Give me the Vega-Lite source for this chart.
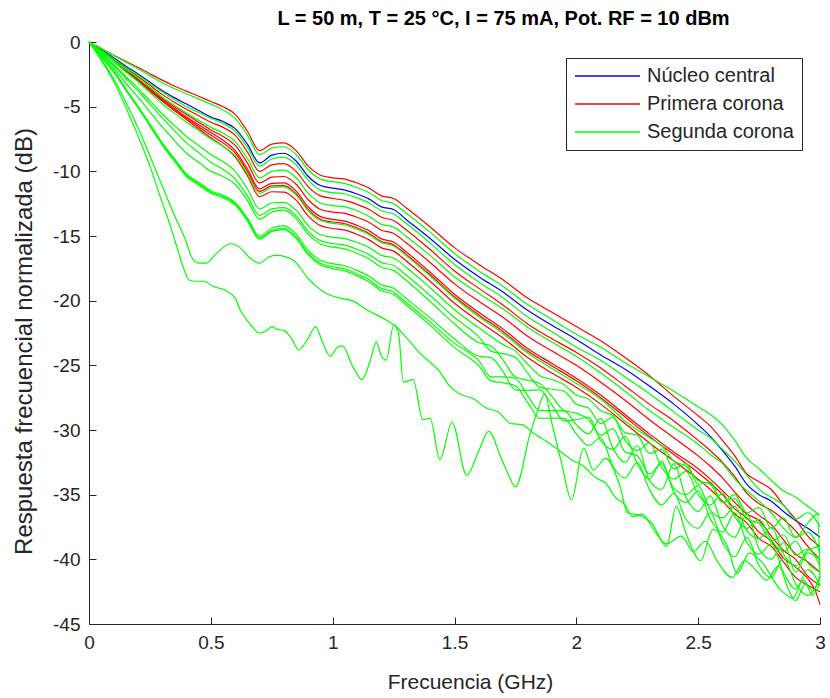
{
"$schema":"https://vega.github.io/schema/vega-lite/v6.json",
"width":731,"height":582,
"autosize":{"type":"none"},
"padding":{"left":89,"top":42,"right":10,"bottom":74},
"background":"white",
"config":{"view":{"stroke":null}},
"title":{"text":"L = 50 m, T = 25 °C, I = 75 mA, Pot. RF = 10 dBm","font":"Liberation Sans, Arial, sans-serif","fontSize":20,"fontWeight":"bold","color":"#000000","anchor":"middle","frame":"group","offset":4,"dx":49},
"datasets":{
"cores":[{"s":"B","g":"Núcleo central"},{"s":"R1","g":"Primera corona"},{"s":"R2","g":"Primera corona"},{"s":"R3","g":"Primera corona"},{"s":"R4","g":"Primera corona"},{"s":"R5","g":"Primera corona"},{"s":"R6","g":"Primera corona"},{"s":"G1","g":"Segunda corona"},{"s":"G2","g":"Segunda corona"},{"s":"G3","g":"Segunda corona"},{"s":"G4","g":"Segunda corona"},{"s":"G5","g":"Segunda corona"},{"s":"G6","g":"Segunda corona"},{"s":"G7","g":"Segunda corona"},{"s":"G8","g":"Segunda corona"},{"s":"G9","g":"Segunda corona"},{"s":"G10","g":"Segunda corona"},{"s":"G11","g":"Segunda corona"},{"s":"G12","g":"Segunda corona"}],
"curvas":[
{"s":"R1","x":0,"y":0},{"s":"R1","x":0.05,"y":-0.5},{"s":"R1","x":0.1,"y":-1},{"s":"R1","x":0.15,"y":-1.5},{"s":"R1","x":0.2,"y":-1.95},{"s":"R1","x":0.25,"y":-2.45},{"s":"R1","x":0.3,"y":-2.95},{"s":"R1","x":0.35,"y":-3.4},{"s":"R1","x":0.4,"y":-3.8},{"s":"R1","x":0.45,"y":-4.2},{"s":"R1","x":0.5,"y":-4.6},{"s":"R1","x":0.55,"y":-5},{"s":"R1","x":0.6,"y":-5.6},{"s":"R1","x":0.65,"y":-6.9},{"s":"R1","x":0.7,"y":-8.4},{"s":"R1","x":0.75,"y":-7.9},{"s":"R1","x":0.8,"y":-7.8},{"s":"R1","x":0.85,"y":-8.4},{"s":"R1","x":0.9,"y":-9.6},{"s":"R1","x":0.95,"y":-10.3},{"s":"R1","x":1,"y":-10.5},{"s":"R1","x":1.05,"y":-10.6},{"s":"R1","x":1.1,"y":-10.9},{"s":"R1","x":1.15,"y":-11.3},{"s":"R1","x":1.2,"y":-11.9},{"s":"R1","x":1.25,"y":-12.1},{"s":"R1","x":1.3,"y":-12.8},{"s":"R1","x":1.4,"y":-14.3},{"s":"R1","x":1.5,"y":-15.9},{"s":"R1","x":1.6,"y":-17.2},{"s":"R1","x":1.7,"y":-18.4},{"s":"R1","x":1.8,"y":-19.8},{"s":"R1","x":1.9,"y":-20.9},{"s":"R1","x":2,"y":-22},{"s":"R1","x":2.1,"y":-23.1},{"s":"R1","x":2.2,"y":-24.4},{"s":"R1","x":2.3,"y":-25.8},{"s":"R1","x":2.4,"y":-27.4},{"s":"R1","x":2.5,"y":-28.9},{"s":"R1","x":2.55,"y":-29.7},{"s":"R1","x":2.6,"y":-30.8},{"s":"R1","x":2.65,"y":-32},{"s":"R1","x":2.7,"y":-33.4},{"s":"R1","x":2.75,"y":-34},{"s":"R1","x":2.8,"y":-34.6},{"s":"R1","x":2.85,"y":-35.8},{"s":"R1","x":2.9,"y":-36.9},{"s":"R1","x":2.95,"y":-38.2},{"s":"R1","x":3,"y":-39},
{"s":"G1","x":0,"y":0},{"s":"G1","x":0.05,"y":-0.5},{"s":"G1","x":0.1,"y":-1},{"s":"G1","x":0.15,"y":-1.55},{"s":"G1","x":0.2,"y":-2.05},{"s":"G1","x":0.25,"y":-2.6},{"s":"G1","x":0.3,"y":-3.15},{"s":"G1","x":0.35,"y":-3.6},{"s":"G1","x":0.4,"y":-4},{"s":"G1","x":0.45,"y":-4.4},{"s":"G1","x":0.5,"y":-4.8},{"s":"G1","x":0.55,"y":-5.25},{"s":"G1","x":0.6,"y":-5.9},{"s":"G1","x":0.65,"y":-7.2},{"s":"G1","x":0.7,"y":-8.7},{"s":"G1","x":0.75,"y":-8.2},{"s":"G1","x":0.8,"y":-8.1},{"s":"G1","x":0.85,"y":-8.7},{"s":"G1","x":0.9,"y":-9.9},{"s":"G1","x":0.95,"y":-10.6},{"s":"G1","x":1,"y":-10.8},{"s":"G1","x":1.05,"y":-10.95},{"s":"G1","x":1.1,"y":-11.25},{"s":"G1","x":1.15,"y":-11.65},{"s":"G1","x":1.2,"y":-12.25},{"s":"G1","x":1.25,"y":-12.5},{"s":"G1","x":1.3,"y":-13.2},{"s":"G1","x":1.4,"y":-14.7},{"s":"G1","x":1.5,"y":-16.35},{"s":"G1","x":1.6,"y":-17.7},{"s":"G1","x":1.7,"y":-18.9},{"s":"G1","x":1.8,"y":-20.3},{"s":"G1","x":1.9,"y":-21.45},{"s":"G1","x":2,"y":-22.6},{"s":"G1","x":2.1,"y":-23.6},{"s":"G1","x":2.2,"y":-24.8},{"s":"G1","x":2.3,"y":-25.9},{"s":"G1","x":2.4,"y":-27},{"s":"G1","x":2.5,"y":-28.2},{"s":"G1","x":2.55,"y":-28.8},{"s":"G1","x":2.6,"y":-29.6},{"s":"G1","x":2.65,"y":-30.8},{"s":"G1","x":2.7,"y":-32.2},{"s":"G1","x":2.75,"y":-33},{"s":"G1","x":2.8,"y":-33.9},{"s":"G1","x":2.85,"y":-34.7},{"s":"G1","x":2.9,"y":-35.2},{"s":"G1","x":2.95,"y":-35.9},{"s":"G1","x":3,"y":-36.6},
{"s":"B","x":0,"y":0},{"s":"B","x":0.05,"y":-0.6},{"s":"B","x":0.1,"y":-1.2},{"s":"B","x":0.15,"y":-1.85},{"s":"B","x":0.2,"y":-2.45},{"s":"B","x":0.25,"y":-3.1},{"s":"B","x":0.3,"y":-3.75},{"s":"B","x":0.35,"y":-4.3},{"s":"B","x":0.4,"y":-4.8},{"s":"B","x":0.45,"y":-5.3},{"s":"B","x":0.5,"y":-5.8},{"s":"B","x":0.55,"y":-6.15},{"s":"B","x":0.6,"y":-6.7},{"s":"B","x":0.65,"y":-7.9},{"s":"B","x":0.7,"y":-9.35},{"s":"B","x":0.75,"y":-8.75},{"s":"B","x":0.8,"y":-8.6},{"s":"B","x":0.85,"y":-9.2},{"s":"B","x":0.9,"y":-10.4},{"s":"B","x":0.95,"y":-11.1},{"s":"B","x":1,"y":-11.3},{"s":"B","x":1.05,"y":-11.45},{"s":"B","x":1.1,"y":-11.75},{"s":"B","x":1.15,"y":-12.15},{"s":"B","x":1.2,"y":-12.75},{"s":"B","x":1.25,"y":-12.95},{"s":"B","x":1.3,"y":-13.7},{"s":"B","x":1.4,"y":-15.2},{"s":"B","x":1.5,"y":-16.8},{"s":"B","x":1.6,"y":-18.15},{"s":"B","x":1.7,"y":-19.35},{"s":"B","x":1.8,"y":-20.75},{"s":"B","x":1.9,"y":-21.9},{"s":"B","x":2,"y":-23},{"s":"B","x":2.1,"y":-24.2},{"s":"B","x":2.2,"y":-25.3},{"s":"B","x":2.3,"y":-26.6},{"s":"B","x":2.4,"y":-28},{"s":"B","x":2.5,"y":-29.6},{"s":"B","x":2.55,"y":-30.5},{"s":"B","x":2.6,"y":-31.6},{"s":"B","x":2.65,"y":-32.8},{"s":"B","x":2.7,"y":-34.2},{"s":"B","x":2.75,"y":-35},{"s":"B","x":2.8,"y":-35.5},{"s":"B","x":2.85,"y":-36.3},{"s":"B","x":2.9,"y":-37},{"s":"B","x":2.95,"y":-37.6},{"s":"B","x":3,"y":-38.3},
{"s":"G2","x":0,"y":0},{"s":"G2","x":0.05,"y":-0.65},{"s":"G2","x":0.1,"y":-1.3},{"s":"G2","x":0.15,"y":-1.95},{"s":"G2","x":0.2,"y":-2.55},{"s":"G2","x":0.25,"y":-3.2},{"s":"G2","x":0.3,"y":-3.85},{"s":"G2","x":0.35,"y":-4.45},{"s":"G2","x":0.4,"y":-5},{"s":"G2","x":0.45,"y":-5.45},{"s":"G2","x":0.5,"y":-5.9},{"s":"G2","x":0.55,"y":-6.3},{"s":"G2","x":0.6,"y":-6.9},{"s":"G2","x":0.65,"y":-8.15},{"s":"G2","x":0.7,"y":-9.6},{"s":"G2","x":0.75,"y":-9.05},{"s":"G2","x":0.8,"y":-8.9},{"s":"G2","x":0.85,"y":-9.5},{"s":"G2","x":0.9,"y":-10.7},{"s":"G2","x":0.95,"y":-11.45},{"s":"G2","x":1,"y":-11.65},{"s":"G2","x":1.05,"y":-11.75},{"s":"G2","x":1.1,"y":-12.05},{"s":"G2","x":1.15,"y":-12.45},{"s":"G2","x":1.2,"y":-13.05},{"s":"G2","x":1.25,"y":-13.3},{"s":"G2","x":1.3,"y":-14},{"s":"G2","x":1.4,"y":-15.55},{"s":"G2","x":1.5,"y":-17.2},{"s":"G2","x":1.6,"y":-18.55},{"s":"G2","x":1.7,"y":-19.8},{"s":"G2","x":1.8,"y":-21.25},{"s":"G2","x":1.9,"y":-22.4},{"s":"G2","x":2,"y":-23.6},{"s":"G2","x":2.1,"y":-24.6},{"s":"G2","x":2.2,"y":-25.9},{"s":"G2","x":2.3,"y":-27.2},{"s":"G2","x":2.4,"y":-28.6},{"s":"G2","x":2.5,"y":-30},{"s":"G2","x":2.55,"y":-30.6},{"s":"G2","x":2.6,"y":-31.5},{"s":"G2","x":2.65,"y":-32.4},{"s":"G2","x":2.7,"y":-33.5},{"s":"G2","x":2.75,"y":-34.6},{"s":"G2","x":2.8,"y":-35.2},{"s":"G2","x":2.85,"y":-35.8},{"s":"G2","x":2.9,"y":-36.9},{"s":"G2","x":2.95,"y":-36.4},{"s":"G2","x":3,"y":-37.5},
{"s":"R2","x":0,"y":0},{"s":"R2","x":0.05,"y":-0.65},{"s":"R2","x":0.1,"y":-1.3},{"s":"R2","x":0.15,"y":-2},{"s":"R2","x":0.2,"y":-2.65},{"s":"R2","x":0.25,"y":-3.35},{"s":"R2","x":0.3,"y":-4.05},{"s":"R2","x":0.35,"y":-4.65},{"s":"R2","x":0.4,"y":-5.2},{"s":"R2","x":0.45,"y":-5.7},{"s":"R2","x":0.5,"y":-6.2},{"s":"R2","x":0.55,"y":-6.6},{"s":"R2","x":0.6,"y":-7.2},{"s":"R2","x":0.65,"y":-8.5},{"s":"R2","x":0.7,"y":-10},{"s":"R2","x":0.75,"y":-9.5},{"s":"R2","x":0.8,"y":-9.4},{"s":"R2","x":0.85,"y":-10},{"s":"R2","x":0.9,"y":-11.2},{"s":"R2","x":0.95,"y":-11.9},{"s":"R2","x":1,"y":-12.1},{"s":"R2","x":1.05,"y":-12.25},{"s":"R2","x":1.1,"y":-12.55},{"s":"R2","x":1.15,"y":-12.95},{"s":"R2","x":1.2,"y":-13.55},{"s":"R2","x":1.25,"y":-13.8},{"s":"R2","x":1.3,"y":-14.5},{"s":"R2","x":1.4,"y":-16.05},{"s":"R2","x":1.5,"y":-17.7},{"s":"R2","x":1.6,"y":-19.05},{"s":"R2","x":1.7,"y":-20.35},{"s":"R2","x":1.8,"y":-21.8},{"s":"R2","x":1.9,"y":-22.95},{"s":"R2","x":2,"y":-24},{"s":"R2","x":2.1,"y":-25.2},{"s":"R2","x":2.2,"y":-26.6},{"s":"R2","x":2.3,"y":-28},{"s":"R2","x":2.4,"y":-29.3},{"s":"R2","x":2.5,"y":-30.8},{"s":"R2","x":2.55,"y":-31.6},{"s":"R2","x":2.6,"y":-32.5},{"s":"R2","x":2.65,"y":-33.6},{"s":"R2","x":2.7,"y":-34.9},{"s":"R2","x":2.75,"y":-35.7},{"s":"R2","x":2.8,"y":-36.2},{"s":"R2","x":2.85,"y":-36.9},{"s":"R2","x":2.9,"y":-37.8},{"s":"R2","x":2.95,"y":-39},{"s":"R2","x":3,"y":-40},
{"s":"G3","x":0,"y":0},{"s":"G3","x":0.05,"y":-0.7},{"s":"G3","x":0.1,"y":-1.4},{"s":"G3","x":0.15,"y":-2.1},{"s":"G3","x":0.2,"y":-2.75},{"s":"G3","x":0.25,"y":-3.5},{"s":"G3","x":0.3,"y":-4.25},{"s":"G3","x":0.35,"y":-4.9},{"s":"G3","x":0.4,"y":-5.5},{"s":"G3","x":0.45,"y":-6.05},{"s":"G3","x":0.5,"y":-6.6},{"s":"G3","x":0.55,"y":-7.05},{"s":"G3","x":0.6,"y":-7.7},{"s":"G3","x":0.65,"y":-9},{"s":"G3","x":0.7,"y":-10.5},{"s":"G3","x":0.75,"y":-10},{"s":"G3","x":0.8,"y":-9.9},{"s":"G3","x":0.85,"y":-10.5},{"s":"G3","x":0.9,"y":-11.7},{"s":"G3","x":0.95,"y":-12.45},{"s":"G3","x":1,"y":-12.65},{"s":"G3","x":1.05,"y":-12.75},{"s":"G3","x":1.1,"y":-13.05},{"s":"G3","x":1.15,"y":-13.5},{"s":"G3","x":1.2,"y":-14.1},{"s":"G3","x":1.25,"y":-14.3},{"s":"G3","x":1.3,"y":-15},{"s":"G3","x":1.4,"y":-16.5},{"s":"G3","x":1.5,"y":-18.15},{"s":"G3","x":1.6,"y":-19.45},{"s":"G3","x":1.7,"y":-20.65},{"s":"G3","x":1.8,"y":-22.05},{"s":"G3","x":1.9,"y":-23.2},{"s":"G3","x":2,"y":-24.3},{"s":"G3","x":2.1,"y":-25.6},{"s":"G3","x":2.2,"y":-27},{"s":"G3","x":2.3,"y":-28.5},{"s":"G3","x":2.4,"y":-29.8},{"s":"G3","x":2.5,"y":-31.1},{"s":"G3","x":2.55,"y":-31.9},{"s":"G3","x":2.6,"y":-32.6},{"s":"G3","x":2.65,"y":-33.8},{"s":"G3","x":2.7,"y":-34.7},{"s":"G3","x":2.75,"y":-35.5},{"s":"G3","x":2.8,"y":-36.4},{"s":"G3","x":2.85,"y":-37.6},{"s":"G3","x":2.9,"y":-38.3},{"s":"G3","x":2.95,"y":-37.9},{"s":"G3","x":3,"y":-39.5},
{"s":"R3","x":0,"y":0},{"s":"R3","x":0.05,"y":-0.7},{"s":"R3","x":0.1,"y":-1.4},{"s":"R3","x":0.15,"y":-2.15},{"s":"R3","x":0.2,"y":-2.85},{"s":"R3","x":0.25,"y":-3.6},{"s":"R3","x":0.3,"y":-4.35},{"s":"R3","x":0.35,"y":-5},{"s":"R3","x":0.4,"y":-5.6},{"s":"R3","x":0.45,"y":-6.2},{"s":"R3","x":0.5,"y":-6.8},{"s":"R3","x":0.55,"y":-7.3},{"s":"R3","x":0.6,"y":-8},{"s":"R3","x":0.65,"y":-9.35},{"s":"R3","x":0.7,"y":-10.9},{"s":"R3","x":0.75,"y":-10.45},{"s":"R3","x":0.8,"y":-10.4},{"s":"R3","x":0.85,"y":-11},{"s":"R3","x":0.9,"y":-12.2},{"s":"R3","x":0.95,"y":-12.95},{"s":"R3","x":1,"y":-13.15},{"s":"R3","x":1.05,"y":-13.25},{"s":"R3","x":1.1,"y":-13.55},{"s":"R3","x":1.15,"y":-13.95},{"s":"R3","x":1.2,"y":-14.55},{"s":"R3","x":1.25,"y":-14.8},{"s":"R3","x":1.3,"y":-15.5},{"s":"R3","x":1.4,"y":-17.05},{"s":"R3","x":1.5,"y":-18.7},{"s":"R3","x":1.6,"y":-20.05},{"s":"R3","x":1.7,"y":-21.3},{"s":"R3","x":1.8,"y":-22.75},{"s":"R3","x":1.9,"y":-23.9},{"s":"R3","x":2,"y":-25},{"s":"R3","x":2.1,"y":-26.3},{"s":"R3","x":2.2,"y":-27.7},{"s":"R3","x":2.3,"y":-29.2},{"s":"R3","x":2.4,"y":-30.6},{"s":"R3","x":2.5,"y":-32},{"s":"R3","x":2.55,"y":-32.8},{"s":"R3","x":2.6,"y":-33.7},{"s":"R3","x":2.65,"y":-34.8},{"s":"R3","x":2.7,"y":-35.8},{"s":"R3","x":2.75,"y":-36.6},{"s":"R3","x":2.8,"y":-37.3},{"s":"R3","x":2.85,"y":-38.5},{"s":"R3","x":2.9,"y":-39.6},{"s":"R3","x":2.95,"y":-40.2},{"s":"R3","x":3,"y":-41},
{"s":"R4","x":0,"y":0},{"s":"R4","x":0.05,"y":-0.7},{"s":"R4","x":0.1,"y":-1.4},{"s":"R4","x":0.15,"y":-2.2},{"s":"R4","x":0.2,"y":-2.95},{"s":"R4","x":0.25,"y":-3.7},{"s":"R4","x":0.3,"y":-4.45},{"s":"R4","x":0.35,"y":-5.15},{"s":"R4","x":0.4,"y":-5.8},{"s":"R4","x":0.45,"y":-6.4},{"s":"R4","x":0.5,"y":-7},{"s":"R4","x":0.55,"y":-7.6},{"s":"R4","x":0.6,"y":-8.4},{"s":"R4","x":0.65,"y":-9.8},{"s":"R4","x":0.7,"y":-11.35},{"s":"R4","x":0.75,"y":-10.93},{"s":"R4","x":0.8,"y":-10.9},{"s":"R4","x":0.85,"y":-11.53},{"s":"R4","x":0.9,"y":-12.76},{"s":"R4","x":0.95,"y":-13.5},{"s":"R4","x":1,"y":-13.72},{"s":"R4","x":1.05,"y":-13.85},{"s":"R4","x":1.1,"y":-14.18},{"s":"R4","x":1.15,"y":-14.6},{"s":"R4","x":1.2,"y":-15.22},{"s":"R4","x":1.25,"y":-15.47},{"s":"R4","x":1.3,"y":-16.2},{"s":"R4","x":1.4,"y":-17.8},{"s":"R4","x":1.5,"y":-19.5},{"s":"R4","x":1.6,"y":-20.9},{"s":"R4","x":1.7,"y":-22.2},{"s":"R4","x":1.8,"y":-23.7},{"s":"R4","x":1.9,"y":-24.85},{"s":"R4","x":2,"y":-26},{"s":"R4","x":2.1,"y":-27.3},{"s":"R4","x":2.2,"y":-28.8},{"s":"R4","x":2.3,"y":-30.3},{"s":"R4","x":2.4,"y":-31.7},{"s":"R4","x":2.5,"y":-33},{"s":"R4","x":2.55,"y":-33.8},{"s":"R4","x":2.6,"y":-34.7},{"s":"R4","x":2.65,"y":-35.6},{"s":"R4","x":2.7,"y":-36.5},{"s":"R4","x":2.75,"y":-37},{"s":"R4","x":2.8,"y":-38.2},{"s":"R4","x":2.85,"y":-39.3},{"s":"R4","x":2.9,"y":-40},{"s":"R4","x":2.95,"y":-41.3},{"s":"R4","x":3,"y":-42},
{"s":"R5","x":0,"y":0},{"s":"R5","x":0.05,"y":-0.7},{"s":"R5","x":0.1,"y":-1.4},{"s":"R5","x":0.15,"y":-2.2},{"s":"R5","x":0.2,"y":-2.95},{"s":"R5","x":0.25,"y":-3.75},{"s":"R5","x":0.3,"y":-4.55},{"s":"R5","x":0.35,"y":-5.25},{"s":"R5","x":0.4,"y":-5.9},{"s":"R5","x":0.45,"y":-6.55},{"s":"R5","x":0.5,"y":-7.2},{"s":"R5","x":0.55,"y":-7.8},{"s":"R5","x":0.6,"y":-8.6},{"s":"R5","x":0.65,"y":-10},{"s":"R5","x":0.7,"y":-11.55},{"s":"R5","x":0.75,"y":-11.13},{"s":"R5","x":0.8,"y":-11.1},{"s":"R5","x":0.85,"y":-11.73},{"s":"R5","x":0.9,"y":-12.96},{"s":"R5","x":0.95,"y":-13.7},{"s":"R5","x":1,"y":-13.92},{"s":"R5","x":1.05,"y":-14.05},{"s":"R5","x":1.1,"y":-14.38},{"s":"R5","x":1.15,"y":-14.8},{"s":"R5","x":1.2,"y":-15.42},{"s":"R5","x":1.25,"y":-15.67},{"s":"R5","x":1.3,"y":-16.4},{"s":"R5","x":1.4,"y":-18},{"s":"R5","x":1.5,"y":-19.7},{"s":"R5","x":1.6,"y":-21.1},{"s":"R5","x":1.7,"y":-22.4},{"s":"R5","x":1.8,"y":-23.9},{"s":"R5","x":1.9,"y":-25.05},{"s":"R5","x":2,"y":-26.2},{"s":"R5","x":2.1,"y":-27.5},{"s":"R5","x":2.2,"y":-29},{"s":"R5","x":2.3,"y":-30.5},{"s":"R5","x":2.4,"y":-31.9},{"s":"R5","x":2.5,"y":-33.3},{"s":"R5","x":2.55,"y":-34.1},{"s":"R5","x":2.6,"y":-35},{"s":"R5","x":2.65,"y":-36.1},{"s":"R5","x":2.7,"y":-36.8},{"s":"R5","x":2.75,"y":-37.9},{"s":"R5","x":2.8,"y":-38.6},{"s":"R5","x":2.85,"y":-39.9},{"s":"R5","x":2.9,"y":-40.6},{"s":"R5","x":2.95,"y":-41.5},{"s":"R5","x":2.98,"y":-42.4},{"s":"R5","x":3,"y":-43.5},
{"s":"G4","x":0,"y":0},{"s":"G4","x":0.05,"y":-0.75},{"s":"G4","x":0.1,"y":-1.5},{"s":"G4","x":0.15,"y":-2.3},{"s":"G4","x":0.2,"y":-3.05},{"s":"G4","x":0.25,"y":-3.9},{"s":"G4","x":0.3,"y":-4.75},{"s":"G4","x":0.35,"y":-5.5},{"s":"G4","x":0.4,"y":-6.2},{"s":"G4","x":0.45,"y":-6.85},{"s":"G4","x":0.5,"y":-7.5},{"s":"G4","x":0.55,"y":-8.05},{"s":"G4","x":0.6,"y":-8.8},{"s":"G4","x":0.65,"y":-10.15},{"s":"G4","x":0.7,"y":-11.7},{"s":"G4","x":0.75,"y":-11.25},{"s":"G4","x":0.8,"y":-11.2},{"s":"G4","x":0.85,"y":-11.83},{"s":"G4","x":0.9,"y":-13.06},{"s":"G4","x":0.95,"y":-13.8},{"s":"G4","x":1,"y":-14.02},{"s":"G4","x":1.05,"y":-14.15},{"s":"G4","x":1.1,"y":-14.48},{"s":"G4","x":1.15,"y":-14.9},{"s":"G4","x":1.2,"y":-15.52},{"s":"G4","x":1.25,"y":-15.77},{"s":"G4","x":1.3,"y":-16.5},{"s":"G4","x":1.4,"y":-18.1},{"s":"G4","x":1.5,"y":-19.8},{"s":"G4","x":1.6,"y":-21.25},{"s":"G4","x":1.7,"y":-22.55},{"s":"G4","x":1.8,"y":-24.05},{"s":"G4","x":1.9,"y":-25.25},{"s":"G4","x":2,"y":-26.4},{"s":"G4","x":2.1,"y":-27.6},{"s":"G4","x":2.2,"y":-29.3},{"s":"G4","x":2.3,"y":-30.6},{"s":"G4","x":2.35,"y":-31.2},{"s":"G4","x":2.4,"y":-32.4},{"s":"G4","x":2.45,"y":-32.8},{"s":"G4","x":2.5,"y":-33.9},{"s":"G4","x":2.55,"y":-34.2},{"s":"G4","x":2.6,"y":-35.6},{"s":"G4","x":2.65,"y":-35.3},{"s":"G4","x":2.7,"y":-36.9},{"s":"G4","x":2.75,"y":-37.2},{"s":"G4","x":2.8,"y":-38.6},{"s":"G4","x":2.85,"y":-38.1},{"s":"G4","x":2.9,"y":-39.7},{"s":"G4","x":2.95,"y":-39.2},{"s":"G4","x":3,"y":-40.5},
{"s":"R6","x":0,"y":0},{"s":"R6","x":0.05,"y":-0.7},{"s":"R6","x":0.1,"y":-1.4},{"s":"R6","x":0.15,"y":-2.2},{"s":"R6","x":0.2,"y":-2.95},{"s":"R6","x":0.25,"y":-3.75},{"s":"R6","x":0.3,"y":-4.55},{"s":"R6","x":0.35,"y":-5.3},{"s":"R6","x":0.4,"y":-6},{"s":"R6","x":0.45,"y":-6.7},{"s":"R6","x":0.5,"y":-7.4},{"s":"R6","x":0.55,"y":-8.05},{"s":"R6","x":0.6,"y":-8.9},{"s":"R6","x":0.65,"y":-10.33},{"s":"R6","x":0.7,"y":-11.95},{"s":"R6","x":0.75,"y":-11.58},{"s":"R6","x":0.8,"y":-11.6},{"s":"R6","x":0.85,"y":-12.23},{"s":"R6","x":0.9,"y":-13.46},{"s":"R6","x":0.95,"y":-14.2},{"s":"R6","x":1,"y":-14.42},{"s":"R6","x":1.05,"y":-14.55},{"s":"R6","x":1.1,"y":-14.88},{"s":"R6","x":1.15,"y":-15.3},{"s":"R6","x":1.2,"y":-15.92},{"s":"R6","x":1.25,"y":-16.17},{"s":"R6","x":1.3,"y":-16.9},{"s":"R6","x":1.4,"y":-18.5},{"s":"R6","x":1.5,"y":-20.2},{"s":"R6","x":1.6,"y":-21.6},{"s":"R6","x":1.7,"y":-22.9},{"s":"R6","x":1.8,"y":-24.4},{"s":"R6","x":1.9,"y":-25.6},{"s":"R6","x":2,"y":-26.7},{"s":"R6","x":2.1,"y":-28},{"s":"R6","x":2.2,"y":-29.5},{"s":"R6","x":2.3,"y":-31},{"s":"R6","x":2.4,"y":-32.4},{"s":"R6","x":2.5,"y":-33.8},{"s":"R6","x":2.55,"y":-34.6},{"s":"R6","x":2.6,"y":-35.5},{"s":"R6","x":2.65,"y":-36.5},{"s":"R6","x":2.7,"y":-37.2},{"s":"R6","x":2.75,"y":-38.4},{"s":"R6","x":2.8,"y":-39},{"s":"R6","x":2.85,"y":-40.2},{"s":"R6","x":2.9,"y":-41.4},{"s":"R6","x":2.95,"y":-42},{"s":"R6","x":3,"y":-42.5},
{"s":"G5","x":0,"y":0},{"s":"G5","x":0.05,"y":-0.85},{"s":"G5","x":0.1,"y":-1.7},{"s":"G5","x":0.15,"y":-2.65},{"s":"G5","x":0.2,"y":-3.55},{"s":"G5","x":0.25,"y":-4.55},{"s":"G5","x":0.3,"y":-5.55},{"s":"G5","x":0.35,"y":-6.45},{"s":"G5","x":0.4,"y":-7.3},{"s":"G5","x":0.45,"y":-8},{"s":"G5","x":0.5,"y":-8.7},{"s":"G5","x":0.55,"y":-9.25},{"s":"G5","x":0.6,"y":-10},{"s":"G5","x":0.65,"y":-11.35},{"s":"G5","x":0.7,"y":-12.9},{"s":"G5","x":0.75,"y":-12.45},{"s":"G5","x":0.8,"y":-12.4},{"s":"G5","x":0.85,"y":-13},{"s":"G5","x":0.9,"y":-14.2},{"s":"G5","x":0.95,"y":-14.9},{"s":"G5","x":1,"y":-15.1},{"s":"G5","x":1.05,"y":-15.2},{"s":"G5","x":1.1,"y":-15.5},{"s":"G5","x":1.15,"y":-15.9},{"s":"G5","x":1.2,"y":-16.5},{"s":"G5","x":1.25,"y":-16.7},{"s":"G5","x":1.3,"y":-17.4},{"s":"G5","x":1.4,"y":-19},{"s":"G5","x":1.5,"y":-20.7},{"s":"G5","x":1.6,"y":-22.1},{"s":"G5","x":1.7,"y":-23.4},{"s":"G5","x":1.75,"y":-23.9},{"s":"G5","x":1.8,"y":-24.9},{"s":"G5","x":1.85,"y":-25.8},{"s":"G5","x":1.9,"y":-26.1},{"s":"G5","x":1.95,"y":-26.5},{"s":"G5","x":2,"y":-27.3},{"s":"G5","x":2.05,"y":-27.6},{"s":"G5","x":2.1,"y":-28.5},{"s":"G5","x":2.15,"y":-28.9},{"s":"G5","x":2.2,"y":-30.2},{"s":"G5","x":2.25,"y":-30.4},{"s":"G5","x":2.3,"y":-31.8},{"s":"G5","x":2.35,"y":-31.5},{"s":"G5","x":2.4,"y":-33},{"s":"G5","x":2.45,"y":-32.6},{"s":"G5","x":2.5,"y":-34.2},{"s":"G5","x":2.55,"y":-34},{"s":"G5","x":2.6,"y":-35.6},{"s":"G5","x":2.65,"y":-35},{"s":"G5","x":2.7,"y":-36.4},{"s":"G5","x":2.75,"y":-36},{"s":"G5","x":2.8,"y":-37.6},{"s":"G5","x":2.85,"y":-36.8},{"s":"G5","x":2.9,"y":-38.3},{"s":"G5","x":2.95,"y":-37.2},{"s":"G5","x":2.99,"y":-36.5},{"s":"G5","x":3,"y":-41.5},
{"s":"G10","x":0,"y":0},{"s":"G10","x":0.05,"y":-0.9},{"s":"G10","x":0.1,"y":-1.8},{"s":"G10","x":0.15,"y":-2.8},{"s":"G10","x":0.2,"y":-3.75},{"s":"G10","x":0.25,"y":-4.8},{"s":"G10","x":0.3,"y":-5.85},{"s":"G10","x":0.35,"y":-6.85},{"s":"G10","x":0.4,"y":-7.8},{"s":"G10","x":0.45,"y":-8.55},{"s":"G10","x":0.5,"y":-9.3},{"s":"G10","x":0.55,"y":-9.85},{"s":"G10","x":0.6,"y":-10.6},{"s":"G10","x":0.65,"y":-11.9},{"s":"G10","x":0.7,"y":-13.4},{"s":"G10","x":0.75,"y":-12.9},{"s":"G10","x":0.8,"y":-12.8},{"s":"G10","x":0.85,"y":-13.42},{"s":"G10","x":0.9,"y":-14.64},{"s":"G10","x":0.95,"y":-15.36},{"s":"G10","x":1,"y":-15.58},{"s":"G10","x":1.05,"y":-15.7},{"s":"G10","x":1.1,"y":-16.02},{"s":"G10","x":1.15,"y":-16.44},{"s":"G10","x":1.2,"y":-17.06},{"s":"G10","x":1.25,"y":-17.28},{"s":"G10","x":1.3,"y":-18},{"s":"G10","x":1.4,"y":-19.6},{"s":"G10","x":1.5,"y":-21.3},{"s":"G10","x":1.6,"y":-22.8},{"s":"G10","x":1.65,"y":-23.9},{"s":"G10","x":1.7,"y":-24.1},{"s":"G10","x":1.75,"y":-24.4},{"s":"G10","x":1.8,"y":-25.6},{"s":"G10","x":1.85,"y":-26.7},{"s":"G10","x":1.9,"y":-26.85},{"s":"G10","x":1.95,"y":-27},{"s":"G10","x":2,"y":-28},{"s":"G10","x":2.05,"y":-28.3},{"s":"G10","x":2.1,"y":-29.5},{"s":"G10","x":2.15,"y":-29},{"s":"G10","x":2.2,"y":-30.8},{"s":"G10","x":2.25,"y":-31.6},{"s":"G10","x":2.3,"y":-31},{"s":"G10","x":2.35,"y":-32.9},{"s":"G10","x":2.4,"y":-33.8},{"s":"G10","x":2.45,"y":-33.2},{"s":"G10","x":2.5,"y":-35},{"s":"G10","x":2.55,"y":-35.8},{"s":"G10","x":2.6,"y":-34.9},{"s":"G10","x":2.65,"y":-36.7},{"s":"G10","x":2.7,"y":-37.6},{"s":"G10","x":2.75,"y":-36.9},{"s":"G10","x":2.8,"y":-38.5},{"s":"G10","x":2.85,"y":-39.4},{"s":"G10","x":2.9,"y":-38.6},{"s":"G10","x":2.95,"y":-40.3},{"s":"G10","x":3,"y":-41},
{"s":"G6","x":0,"y":0},{"s":"G6","x":0.05,"y":-1},{"s":"G6","x":0.1,"y":-2},{"s":"G6","x":0.15,"y":-3.15},{"s":"G6","x":0.2,"y":-4.25},{"s":"G6","x":0.25,"y":-5.4},{"s":"G6","x":0.3,"y":-6.55},{"s":"G6","x":0.35,"y":-7.6},{"s":"G6","x":0.4,"y":-8.6},{"s":"G6","x":0.45,"y":-9.3},{"s":"G6","x":0.5,"y":-10},{"s":"G6","x":0.55,"y":-10.4},{"s":"G6","x":0.6,"y":-11},{"s":"G6","x":0.65,"y":-12.25},{"s":"G6","x":0.7,"y":-13.7},{"s":"G6","x":0.75,"y":-13.15},{"s":"G6","x":0.8,"y":-13},{"s":"G6","x":0.85,"y":-13.64},{"s":"G6","x":0.9,"y":-14.88},{"s":"G6","x":0.95,"y":-15.62},{"s":"G6","x":1,"y":-15.86},{"s":"G6","x":1.05,"y":-16},{"s":"G6","x":1.1,"y":-16.34},{"s":"G6","x":1.15,"y":-16.78},{"s":"G6","x":1.2,"y":-17.42},{"s":"G6","x":1.25,"y":-17.66},{"s":"G6","x":1.3,"y":-18.4},{"s":"G6","x":1.4,"y":-20.06},{"s":"G6","x":1.5,"y":-21.8},{"s":"G6","x":1.6,"y":-23.25},{"s":"G6","x":1.65,"y":-23.5},{"s":"G6","x":1.7,"y":-24.6},{"s":"G6","x":1.75,"y":-25.9},{"s":"G6","x":1.8,"y":-26.15},{"s":"G6","x":1.85,"y":-26.4},{"s":"G6","x":1.9,"y":-27.4},{"s":"G6","x":1.95,"y":-28.5},{"s":"G6","x":2,"y":-28.7},{"s":"G6","x":2.05,"y":-29.2},{"s":"G6","x":2.1,"y":-30.4},{"s":"G6","x":2.15,"y":-29.9},{"s":"G6","x":2.2,"y":-31.7},{"s":"G6","x":2.25,"y":-32},{"s":"G6","x":2.3,"y":-33.4},{"s":"G6","x":2.35,"y":-32.6},{"s":"G6","x":2.4,"y":-34.5},{"s":"G6","x":2.45,"y":-35},{"s":"G6","x":2.5,"y":-34.3},{"s":"G6","x":2.55,"y":-36.2},{"s":"G6","x":2.6,"y":-36.8},{"s":"G6","x":2.65,"y":-35.9},{"s":"G6","x":2.7,"y":-37.8},{"s":"G6","x":2.75,"y":-38.4},{"s":"G6","x":2.8,"y":-37.5},{"s":"G6","x":2.85,"y":-39.6},{"s":"G6","x":2.9,"y":-40.5},{"s":"G6","x":2.95,"y":-39.3},{"s":"G6","x":3,"y":-39},
{"s":"G7","x":0,"y":0},{"s":"G7","x":0.05,"y":-1.1},{"s":"G7","x":0.1,"y":-2.2},{"s":"G7","x":0.15,"y":-3.6},{"s":"G7","x":0.2,"y":-4.95},{"s":"G7","x":0.25,"y":-6.35},{"s":"G7","x":0.3,"y":-7.75},{"s":"G7","x":0.35,"y":-9},{"s":"G7","x":0.4,"y":-10.2},{"s":"G7","x":0.45,"y":-10.85},{"s":"G7","x":0.5,"y":-11.5},{"s":"G7","x":0.55,"y":-11.85},{"s":"G7","x":0.6,"y":-12.4},{"s":"G7","x":0.65,"y":-13.6},{"s":"G7","x":0.7,"y":-15},{"s":"G7","x":0.75,"y":-14.4},{"s":"G7","x":0.8,"y":-14.2},{"s":"G7","x":0.85,"y":-14.86},{"s":"G7","x":0.9,"y":-16.12},{"s":"G7","x":0.95,"y":-16.88},{"s":"G7","x":1,"y":-17.14},{"s":"G7","x":1.05,"y":-17.3},{"s":"G7","x":1.1,"y":-17.66},{"s":"G7","x":1.15,"y":-18.12},{"s":"G7","x":1.2,"y":-18.78},{"s":"G7","x":1.25,"y":-19.04},{"s":"G7","x":1.3,"y":-19.8},{"s":"G7","x":1.4,"y":-21.33},{"s":"G7","x":1.5,"y":-22.96},{"s":"G7","x":1.6,"y":-24.29},{"s":"G7","x":1.65,"y":-24.4},{"s":"G7","x":1.7,"y":-25.51},{"s":"G7","x":1.75,"y":-26.9},{"s":"G7","x":1.8,"y":-26.94},{"s":"G7","x":1.85,"y":-26.9},{"s":"G7","x":1.9,"y":-28.07},{"s":"G7","x":1.95,"y":-29.3},{"s":"G7","x":2,"y":-29.2},{"s":"G7","x":2.05,"y":-29},{"s":"G7","x":2.1,"y":-30.8},{"s":"G7","x":2.15,"y":-31.5},{"s":"G7","x":2.2,"y":-30.5},{"s":"G7","x":2.25,"y":-32.6},{"s":"G7","x":2.3,"y":-33.8},{"s":"G7","x":2.35,"y":-32.4},{"s":"G7","x":2.4,"y":-34.8},{"s":"G7","x":2.45,"y":-35.6},{"s":"G7","x":2.5,"y":-34.7},{"s":"G7","x":2.55,"y":-36.9},{"s":"G7","x":2.6,"y":-37.9},{"s":"G7","x":2.65,"y":-36.4},{"s":"G7","x":2.7,"y":-38.7},{"s":"G7","x":2.75,"y":-39.6},{"s":"G7","x":2.8,"y":-38.8},{"s":"G7","x":2.85,"y":-41},{"s":"G7","x":2.9,"y":-42.3},{"s":"G7","x":2.95,"y":-40.8},{"s":"G7","x":3,"y":-42},
{"s":"G9","x":0,"y":0},{"s":"G9","x":0.05,"y":-1.1},{"s":"G9","x":0.1,"y":-2.2},{"s":"G9","x":0.15,"y":-3.6},{"s":"G9","x":0.2,"y":-4.95},{"s":"G9","x":0.25,"y":-6.4},{"s":"G9","x":0.3,"y":-7.85},{"s":"G9","x":0.35,"y":-9.1},{"s":"G9","x":0.4,"y":-10.3},{"s":"G9","x":0.45,"y":-10.95},{"s":"G9","x":0.5,"y":-11.6},{"s":"G9","x":0.55,"y":-11.95},{"s":"G9","x":0.6,"y":-12.5},{"s":"G9","x":0.65,"y":-13.75},{"s":"G9","x":0.7,"y":-15.15},{"s":"G9","x":0.75,"y":-14.58},{"s":"G9","x":0.8,"y":-14.4},{"s":"G9","x":0.85,"y":-15.07},{"s":"G9","x":0.9,"y":-16.34},{"s":"G9","x":0.95,"y":-17.11},{"s":"G9","x":1,"y":-17.38},{"s":"G9","x":1.05,"y":-17.55},{"s":"G9","x":1.1,"y":-17.92},{"s":"G9","x":1.15,"y":-18.39},{"s":"G9","x":1.2,"y":-19.06},{"s":"G9","x":1.25,"y":-19.33},{"s":"G9","x":1.3,"y":-20.1},{"s":"G9","x":1.4,"y":-21.66},{"s":"G9","x":1.5,"y":-23.3},{"s":"G9","x":1.6,"y":-24.66},{"s":"G9","x":1.65,"y":-25.9},{"s":"G9","x":1.7,"y":-25.9},{"s":"G9","x":1.75,"y":-26},{"s":"G9","x":1.8,"y":-27.35},{"s":"G9","x":1.85,"y":-28.5},{"s":"G9","x":1.9,"y":-28.5},{"s":"G9","x":1.95,"y":-28.5},{"s":"G9","x":2,"y":-29.6},{"s":"G9","x":2.05,"y":-30.3},{"s":"G9","x":2.1,"y":-29.1},{"s":"G9","x":2.15,"y":-31.4},{"s":"G9","x":2.2,"y":-32.5},{"s":"G9","x":2.25,"y":-31.2},{"s":"G9","x":2.3,"y":-33.9},{"s":"G9","x":2.35,"y":-34.6},{"s":"G9","x":2.4,"y":-32.6},{"s":"G9","x":2.45,"y":-35.2},{"s":"G9","x":2.5,"y":-36.3},{"s":"G9","x":2.55,"y":-35.1},{"s":"G9","x":2.6,"y":-37.4},{"s":"G9","x":2.65,"y":-38.3},{"s":"G9","x":2.7,"y":-36.5},{"s":"G9","x":2.75,"y":-39.2},{"s":"G9","x":2.8,"y":-40},{"s":"G9","x":2.85,"y":-38.7},{"s":"G9","x":2.9,"y":-41},{"s":"G9","x":2.95,"y":-39.5},{"s":"G9","x":3,"y":-40},
{"s":"G8","x":0,"y":0},{"s":"G8","x":0.05,"y":-1.15},{"s":"G8","x":0.1,"y":-2.3},{"s":"G8","x":0.15,"y":-3.7},{"s":"G8","x":0.2,"y":-5.05},{"s":"G8","x":0.25,"y":-6.5},{"s":"G8","x":0.3,"y":-7.95},{"s":"G8","x":0.35,"y":-9.2},{"s":"G8","x":0.4,"y":-10.4},{"s":"G8","x":0.45,"y":-11.05},{"s":"G8","x":0.5,"y":-11.7},{"s":"G8","x":0.55,"y":-12.05},{"s":"G8","x":0.6,"y":-12.6},{"s":"G8","x":0.65,"y":-13.83},{"s":"G8","x":0.7,"y":-15.25},{"s":"G8","x":0.75,"y":-14.65},{"s":"G8","x":0.8,"y":-14.5},{"s":"G8","x":0.85,"y":-15.18},{"s":"G8","x":0.9,"y":-16.46},{"s":"G8","x":0.95,"y":-17.24},{"s":"G8","x":1,"y":-17.52},{"s":"G8","x":1.05,"y":-17.7},{"s":"G8","x":1.1,"y":-18.08},{"s":"G8","x":1.15,"y":-18.56},{"s":"G8","x":1.2,"y":-19.24},{"s":"G8","x":1.25,"y":-19.52},{"s":"G8","x":1.3,"y":-20.3},{"s":"G8","x":1.4,"y":-21.91},{"s":"G8","x":1.5,"y":-23.63},{"s":"G8","x":1.6,"y":-25.04},{"s":"G8","x":1.65,"y":-26.2},{"s":"G8","x":1.7,"y":-26.35},{"s":"G8","x":1.75,"y":-26.6},{"s":"G8","x":1.8,"y":-27.86},{"s":"G8","x":1.85,"y":-29.1},{"s":"G8","x":1.9,"y":-29.08},{"s":"G8","x":1.95,"y":-29.1},{"s":"G8","x":2,"y":-30.3},{"s":"G8","x":2.05,"y":-31.2},{"s":"G8","x":2.1,"y":-30.6},{"s":"G8","x":2.15,"y":-32.8},{"s":"G8","x":2.2,"y":-33.7},{"s":"G8","x":2.25,"y":-32.5},{"s":"G8","x":2.3,"y":-34.6},{"s":"G8","x":2.35,"y":-35.8},{"s":"G8","x":2.4,"y":-34.9},{"s":"G8","x":2.45,"y":-36.9},{"s":"G8","x":2.5,"y":-37.6},{"s":"G8","x":2.55,"y":-36.4},{"s":"G8","x":2.6,"y":-38.7},{"s":"G8","x":2.65,"y":-39.8},{"s":"G8","x":2.7,"y":-38.3},{"s":"G8","x":2.75,"y":-40.5},{"s":"G8","x":2.8,"y":-41.4},{"s":"G8","x":2.85,"y":-39.9},{"s":"G8","x":2.9,"y":-41.9},{"s":"G8","x":2.95,"y":-42.8},{"s":"G8","x":3,"y":-41.5},
{"s":"G11","x":0,"y":0},{"s":"G11","x":0.05,"y":-1.3},{"s":"G11","x":0.1,"y":-2.8},{"s":"G11","x":0.15,"y":-4.6},{"s":"G11","x":0.2,"y":-6.6},{"s":"G11","x":0.25,"y":-8.8},{"s":"G11","x":0.3,"y":-11.1},{"s":"G11","x":0.35,"y":-13.4},{"s":"G11","x":0.4,"y":-15.5},{"s":"G11","x":0.42,"y":-16.6},{"s":"G11","x":0.45,"y":-17.1},{"s":"G11","x":0.48,"y":-17.1},{"s":"G11","x":0.52,"y":-16.4},{"s":"G11","x":0.58,"y":-15.6},{"s":"G11","x":0.62,"y":-15.9},{"s":"G11","x":0.66,"y":-16.7},{"s":"G11","x":0.7,"y":-17.1},{"s":"G11","x":0.74,"y":-16.6},{"s":"G11","x":0.77,"y":-16.5},{"s":"G11","x":0.84,"y":-16.9},{"s":"G11","x":0.9,"y":-18.3},{"s":"G11","x":0.97,"y":-19.4},{"s":"G11","x":1.03,"y":-19.8},{"s":"G11","x":1.08,"y":-20},{"s":"G11","x":1.14,"y":-20.7},{"s":"G11","x":1.22,"y":-21.5},{"s":"G11","x":1.26,"y":-22},{"s":"G11","x":1.3,"y":-22.8},{"s":"G11","x":1.36,"y":-24.1},{"s":"G11","x":1.44,"y":-25.5},{"s":"G11","x":1.48,"y":-26.6},{"s":"G11","x":1.52,"y":-27.2},{"s":"G11","x":1.58,"y":-27.6},{"s":"G11","x":1.63,"y":-28.3},{"s":"G11","x":1.68,"y":-28.6},{"s":"G11","x":1.73,"y":-29.5},{"s":"G11","x":1.78,"y":-29.6},{"s":"G11","x":1.82,"y":-30.2},{"s":"G11","x":1.88,"y":-30.9},{"s":"G11","x":1.93,"y":-31.6},{"s":"G11","x":1.98,"y":-32.3},{"s":"G11","x":2.03,"y":-32.8},{"s":"G11","x":2.08,"y":-33.7},{"s":"G11","x":2.12,"y":-34.1},{"s":"G11","x":2.16,"y":-35.2},{"s":"G11","x":2.2,"y":-35.8},{"s":"G11","x":2.23,"y":-36.7},{"s":"G11","x":2.27,"y":-36.5},{"s":"G11","x":2.31,"y":-37.5},{"s":"G11","x":2.37,"y":-38.8},{"s":"G11","x":2.43,"y":-38.2},{"s":"G11","x":2.48,"y":-39.4},{"s":"G11","x":2.53,"y":-38.6},{"s":"G11","x":2.58,"y":-40.2},{"s":"G11","x":2.64,"y":-41.4},{"s":"G11","x":2.69,"y":-40.1},{"s":"G11","x":2.74,"y":-40.9},{"s":"G11","x":2.78,"y":-41.6},{"s":"G11","x":2.83,"y":-40.5},{"s":"G11","x":2.87,"y":-42.3},{"s":"G11","x":2.9,"y":-43.2},{"s":"G11","x":2.94,"y":-41.9},{"s":"G11","x":2.97,"y":-42.8},{"s":"G11","x":3,"y":-41.8},
{"s":"G12","x":0,"y":0},{"s":"G12","x":0.05,"y":-1.4},{"s":"G12","x":0.1,"y":-3},{"s":"G12","x":0.15,"y":-5},{"s":"G12","x":0.2,"y":-7.2},{"s":"G12","x":0.25,"y":-9.6},{"s":"G12","x":0.3,"y":-12.4},{"s":"G12","x":0.33,"y":-14},{"s":"G12","x":0.36,"y":-15.8},{"s":"G12","x":0.39,"y":-17.6},{"s":"G12","x":0.41,"y":-18.4},{"s":"G12","x":0.44,"y":-18.5},{"s":"G12","x":0.47,"y":-18.5},{"s":"G12","x":0.51,"y":-18.9},{"s":"G12","x":0.56,"y":-19.2},{"s":"G12","x":0.6,"y":-19.8},{"s":"G12","x":0.62,"y":-20.7},{"s":"G12","x":0.66,"y":-21.8},{"s":"G12","x":0.7,"y":-22.5},{"s":"G12","x":0.73,"y":-22.3},{"s":"G12","x":0.75,"y":-22},{"s":"G12","x":0.77,"y":-22.2},{"s":"G12","x":0.8,"y":-22.3},{"s":"G12","x":0.83,"y":-22.9},{"s":"G12","x":0.86,"y":-23.8},{"s":"G12","x":0.9,"y":-22.9},{"s":"G12","x":0.93,"y":-22},{"s":"G12","x":0.96,"y":-23.3},{"s":"G12","x":0.99,"y":-24.3},{"s":"G12","x":1.02,"y":-23.6},{"s":"G12","x":1.04,"y":-23.5},{"s":"G12","x":1.08,"y":-25},{"s":"G12","x":1.12,"y":-26.1},{"s":"G12","x":1.15,"y":-24.9},{"s":"G12","x":1.18,"y":-23.2},{"s":"G12","x":1.2,"y":-24.3},{"s":"G12","x":1.22,"y":-24.6},{"s":"G12","x":1.25,"y":-21.9},{"s":"G12","x":1.27,"y":-22.5},{"s":"G12","x":1.29,"y":-26.3},{"s":"G12","x":1.33,"y":-26.1},{"s":"G12","x":1.37,"y":-29.2},{"s":"G12","x":1.4,"y":-29.1},{"s":"G12","x":1.44,"y":-32.3},{"s":"G12","x":1.49,"y":-29.4},{"s":"G12","x":1.55,"y":-33.5},{"s":"G12","x":1.6,"y":-31.6},{"s":"G12","x":1.64,"y":-30.1},{"s":"G12","x":1.69,"y":-32.1},{"s":"G12","x":1.72,"y":-33.4},{"s":"G12","x":1.75,"y":-34.4},{"s":"G12","x":1.81,"y":-30.3},{"s":"G12","x":1.84,"y":-28.6},{"s":"G12","x":1.87,"y":-27.2},{"s":"G12","x":1.9,"y":-29.5},{"s":"G12","x":1.94,"y":-32.6},{"s":"G12","x":1.98,"y":-35.4},{"s":"G12","x":2.03,"y":-31.4},{"s":"G12","x":2.07,"y":-33.1},{"s":"G12","x":2.12,"y":-32.2},{"s":"G12","x":2.18,"y":-34.4},{"s":"G12","x":2.21,"y":-36.4},{"s":"G12","x":2.26,"y":-36.6},{"s":"G12","x":2.31,"y":-37.2},{"s":"G12","x":2.37,"y":-39},{"s":"G12","x":2.41,"y":-35.9},{"s":"G12","x":2.45,"y":-38},{"s":"G12","x":2.51,"y":-40.1},{"s":"G12","x":2.56,"y":-37.7},{"s":"G12","x":2.62,"y":-39},{"s":"G12","x":2.66,"y":-41.1},{"s":"G12","x":2.71,"y":-39.5},{"s":"G12","x":2.76,"y":-40.2},{"s":"G12","x":2.84,"y":-42.4},{"s":"G12","x":2.89,"y":-43},{"s":"G12","x":2.93,"y":-41.6},{"s":"G12","x":2.97,"y":-42.4},{"s":"G12","x":3,"y":-41.3}
]},
"data":{"name":"curvas"},
"transform":[{"lookup":"s","from":{"data":{"name":"cores"},"key":"s","fields":["g"]}}],
"encoding":{
"x":{"field":"x","type":"quantitative","scale":{"domain":[0,3],"nice":false,"zero":false},
"axis":{"title":"Frecuencia (GHz)","values":[0,0.5,1,1.5,2,2.5,3],"labelExpr":"''+datum.value","grid":false,"tickSize":-7,"labelPadding":16,"labelFlush":false,"labelOverlap":false,"domainColor":"#262626","tickColor":"#262626","labelColor":"#262626","titleColor":"#262626","labelFont":"Liberation Sans, Arial, sans-serif","titleFont":"Liberation Sans, Arial, sans-serif","labelFontSize":19,"titleFontSize":21,"titleFontWeight":"normal","titleX":381,"titleY":58,"titleAlign":"center","titleBaseline":"middle"}},
"y":{"field":"y","type":"quantitative","scale":{"domain":[-45,0],"nice":false,"zero":false},
"axis":{"title":"Respuesta frecuencial normalizada (dB)","values":[-45,-40,-35,-30,-25,-20,-15,-10,-5,0],"labelExpr":"''+datum.value","grid":false,"tickSize":-7,"labelPadding":16,"labelFlush":false,"labelOverlap":false,"domainColor":"#262626","tickColor":"#262626","labelColor":"#262626","titleColor":"#262626","labelFont":"Liberation Sans, Arial, sans-serif","titleFont":"Liberation Sans, Arial, sans-serif","labelFontSize":19,"titleFontSize":24,"titleFontWeight":"normal","titleX":-65,"titleY":299,"titleAngle":-90,"titleAlign":"center","titleBaseline":"middle"}},
"color":{"field":"g","type":"nominal","scale":{"domain":["Núcleo central","Primera corona","Segunda corona"],"range":["#0000ff","#ff0000","#00ff00"]},
"legend":{"title":null,"orient":"none","legendX":477,"legendY":16,"direction":"vertical","symbolType":"stroke","symbolSize":4225,"symbolStrokeWidth":1.5,"clipHeight":20,"rowPadding":8,"padding":8,"labelOffset":6,"labelLimit":0,"labelFont":"Liberation Sans, Arial, sans-serif","labelFontSize":20,"labelColor":"#262626","strokeColor":"#262626","fillColor":"#ffffff","cornerRadius":0}},
"detail":{"field":"s","type":"nominal"}
},
"layer":[
{"transform":[{"filter":"datum.g == 'Núcleo central'"}],"mark":{"type":"line","strokeWidth":1.2,"interpolate":"monotone"}},
{"transform":[{"filter":"datum.g == 'Primera corona'"}],"mark":{"type":"line","strokeWidth":1.2,"interpolate":"monotone"}},
{"transform":[{"filter":"datum.g == 'Segunda corona'"}],"mark":{"type":"line","strokeWidth":1.2,"interpolate":"monotone"}}
]
}
